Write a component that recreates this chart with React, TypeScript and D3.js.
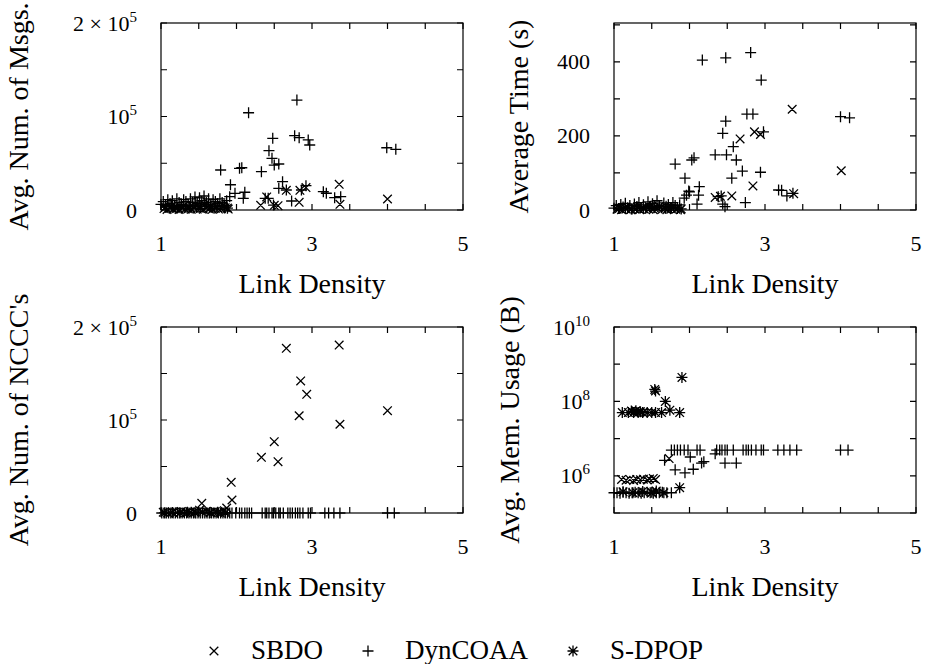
import React from "react";
import * as d3 from "d3";

type P = [number, number];

// ---------- data ----------
const seriesNames = ["SBDO", "DynCOAA", "S-DPOP"];
const xTickLabels = ["1", "3", "5"];

const msgsSBDO: P[] = [[1.04,1500],[1.08,500],[1.12,2000],[1.16,800],[1.2,1500],[1.24,600],[1.28,1800],[1.32,900],[1.36,1400],[1.4,700],[1.44,2000],[1.48,1000],[1.52,1600],[1.56,800],[1.6,2200],[1.64,1200],[1.68,700],[1.72,1800],[1.76,1000],[1.8,1400],[1.85,2500],[1.89,1000],[2.32,5000],[2.5,5000],[2.55,4600],[2.4,14000],[2.66,21000],[2.83,8200],[2.84,21000],[2.92,24000],[3.36,27500],[3.37,6100],[4.0,11800]];
const msgsDyn: P[] = [[1.0,6000],[1.03,9000],[1.06,5000],[1.09,11000],[1.12,7000],[1.15,10000],[1.18,5000],[1.21,12000],[1.24,8000],[1.27,6000],[1.3,11000],[1.33,9000],[1.36,5000],[1.39,12000],[1.42,8000],[1.45,14000],[1.48,7000],[1.51,13000],[1.54,10000],[1.57,15000],[1.6,8000],[1.63,12000],[1.66,6000],[1.69,11000],[1.72,9000],[1.75,7000],[1.78,12000],[1.81,8000],[1.84,5000],[1.87,10000],[1.79,42800],[1.91,14200],[1.92,27000],[1.98,17800],[2.04,44600],[2.07,45200],[2.09,12500],[2.11,19000],[2.16,104000],[2.33,41000],[2.38,12500],[2.42,12500],[2.43,63400],[2.47,55300],[2.48,76700],[2.49,5300],[2.5,48100],[2.56,49200],[2.56,23200],[2.61,30300],[2.66,21400],[2.73,9600],[2.77,79500],[2.8,117600],[2.83,77300],[2.86,21400],[2.92,26000],[2.95,74900],[2.97,69500],[3.15,19600],[3.19,17900],[3.3,13200],[3.38,14200],[3.99,66600],[4.11,64900]];
const msgsSDPOP: P[] = [[1.06,3000],[1.14,4000],[1.22,2500],[1.3,4500],[1.38,3000],[1.46,5500],[1.52,3500],[1.58,6000],[1.66,4000],[1.74,3000],[1.82,4500],[1.88,2000]];

const timeSBDO: P[] = [[1.04,2],[1.1,1],[1.16,3],[1.22,1],[1.28,2],[1.34,1],[1.4,3],[1.46,2],[1.52,1],[1.58,4],[1.64,2],[1.7,1],[1.76,3],[1.82,2],[1.88,1],[2.34,34],[2.41,37],[2.56,38],[2.67,192],[2.84,65],[2.86,211],[2.94,204],[3.36,272],[3.38,44],[4.01,106]];
const timeDyn: P[] = [[1.0,5],[1.03,12],[1.06,4],[1.09,15],[1.12,8],[1.15,18],[1.18,6],[1.21,12],[1.24,3],[1.27,16],[1.3,9],[1.33,20],[1.36,7],[1.39,14],[1.42,5],[1.45,22],[1.48,10],[1.51,17],[1.54,8],[1.57,25],[1.6,12],[1.63,6],[1.66,19],[1.69,10],[1.72,15],[1.75,7],[1.78,20],[1.81,12],[1.84,5],[1.87,14],[1.81,124],[1.93,32],[1.94,86],[1.96,40],[1.99,51],[2.0,49],[2.03,135],[2.06,141],[2.1,16],[2.12,40],[2.13,63],[2.17,405],[2.34,149],[2.38,36],[2.42,38],[2.44,207],[2.44,16],[2.47,9],[2.48,240],[2.48,411],[2.49,149],[2.56,86],[2.58,171],[2.62,135],[2.7,105],[2.74,20],[2.76,259],[2.81,425],[2.84,259],[2.94,102],[2.95,351],[2.98,211],[3.18,54],[3.22,53],[3.29,38],[3.37,45],[4.0,252],[4.12,249]];
const timeSDPOP: P[] = [[1.07,4],[1.15,6],[1.23,3],[1.31,8],[1.39,5],[1.47,9],[1.53,6],[1.6,10],[1.68,5],[1.76,7],[1.84,4],[1.89,3]];

const ncccSBDO: P[] = [[1.03,800],[1.09,300],[1.15,1200],[1.21,500],[1.27,1500],[1.33,400],[1.39,1000],[1.45,2000],[1.51,3000],[1.54,10400],[1.6,1800],[1.66,700],[1.72,1400],[1.78,600],[1.84,2500],[1.87,5400],[1.94,14000],[1.93,33000],[2.33,59900],[2.5,76700],[2.55,55200],[2.66,177100],[2.83,104600],[2.85,142000],[2.93,127600],[3.36,180600],[3.37,95400],[4.0,110000]];
const ncccDyn: P[] = [[1.01,0],[1.04,0],[1.07,0],[1.1,0],[1.13,0],[1.16,0],[1.19,0],[1.22,0],[1.25,0],[1.28,0],[1.31,0],[1.34,0],[1.37,0],[1.4,0],[1.43,0],[1.46,0],[1.49,0],[1.52,0],[1.55,0],[1.58,0],[1.61,0],[1.64,0],[1.67,0],[1.7,0],[1.73,0],[1.76,0],[1.79,0],[1.82,0],[1.85,0],[1.88,0],[1.91,0],[1.94,0],[1.99,0],[2.04,0],[2.07,0],[2.11,0],[2.14,0],[2.17,0],[2.2,0],[2.34,0],[2.38,0],[2.4,0],[2.43,0],[2.47,0],[2.49,0],[2.52,0],[2.56,0],[2.58,0],[2.62,0],[2.68,0],[2.71,0],[2.74,0],[2.78,0],[2.81,0],[2.84,0],[2.88,0],[2.95,0],[2.98,0],[3.17,0],[3.22,0],[3.29,0],[3.37,0],[4.0,0],[4.09,0]];
const ncccSDPOP: P[] = [[1.05,300],[1.15,600],[1.25,200],[1.35,800],[1.45,400],[1.55,1000],[1.65,300],[1.75,700],[1.85,500]];

const memSBDO: P[] = [[1.1,8e5],[1.16,7.6e5],[1.21,8e5],[1.26,7.5e5],[1.3,8e5],[1.35,7.8e5],[1.39,8.1e5],[1.44,7.7e5],[1.47,8.2e5],[1.52,8.5e5],[1.55,7.9e5],[1.73,2.9e6],[1.3,3.5e5],[1.5,3.5e5]];
const memDyn: P[] = [[1.0,3.5e5],[1.04,3.5e5],[1.08,3.4e5],[1.12,3.6e5],[1.16,3.5e5],[1.2,3.4e5],[1.24,3.5e5],[1.28,3.6e5],[1.32,3.5e5],[1.36,3.4e5],[1.4,3.5e5],[1.44,3.6e5],[1.48,3.5e5],[1.52,3.4e5],[1.56,3.5e5],[1.6,3.5e5],[1.64,3.6e5],[1.7,3.5e5],[1.76,3.5e5],[1.67,2.6e6],[1.81,1.45e6],[1.94,1.2e6],[2.05,1.5e6],[2.01,3.2e6],[2.16,2.2e6],[2.19,2.4e6],[2.34,3.9e6],[2.47,2.2e6],[2.62,2.2e6],[1.76,4.9e6],[1.8,4.9e6],[1.84,4.9e6],[1.88,4.9e6],[1.93,4.9e6],[1.98,4.9e6],[2.1,4.9e6],[2.14,4.9e6],[2.36,4.9e6],[2.4,4.9e6],[2.43,4.9e6],[2.47,4.9e6],[2.5,4.9e6],[2.58,4.9e6],[2.71,4.9e6],[2.75,4.9e6],[2.78,4.9e6],[2.82,4.9e6],[2.88,4.9e6],[2.95,4.9e6],[2.98,4.9e6],[3.17,4.9e6],[3.25,4.9e6],[3.33,4.9e6],[3.42,4.9e6],[4.0,4.9e6],[4.1,4.9e6]];
const memSDPOP: P[] = [[1.11,5e7],[1.19,5e7],[1.23,5.5e7],[1.26,5e7],[1.29,5.6e7],[1.32,5e7],[1.35,5.3e7],[1.38,5e7],[1.44,5e7],[1.5,5e7],[1.55,5e7],[1.63,5e7],[1.74,5.8e7],[1.87,5e7],[1.54,2.1e8],[1.55,1.9e8],[1.68,1.0e8],[1.9,4.4e8],[1.12,3.7e5],[1.25,3.5e5],[1.38,3.8e5],[1.5,3.6e5],[1.56,3.9e5],[1.66,3.5e5],[1.87,4.8e5]];

// ---------- layout ----------
const W = 933, H = 664;
const FONT = "Liberation Serif, DejaVu Serif, Noto Serif, serif";
const TICK = 6;
const MARK = "#000";
const SW = 1.3;

type Kind = "x" | "+" | "*";
const kinds: Kind[] = ["x", "+", "*"];

function markerPath(k: Kind, cx: number, cy: number): string {
  const r = 5.5, c = 4.3;
  const plus = `M${cx - r},${cy}H${cx + r}M${cx},${cy - r}V${cy + r}`;
  const cross = `M${cx - c},${cy - c}L${cx + c},${cy + c}M${cx - c},${cy + c}L${cx + c},${cy - c}`;
  if (k === "+") return plus;
  if (k === "x") return cross;
  return plus + cross;
}

type YLab = { v: number; main: string; sup?: string };

interface PanelProps {
  x0: number; x1: number; y0: number; y1: number;
  log?: boolean; yMax: number; yMin?: number;
  yTicks: number[]; yLabels: YLab[];
  series: P[][]; title: string; titleX: number;
}

function Panel(p: PanelProps) {
  const xs = d3.scaleLinear().domain([1, 5]).range([p.x0, p.x1]);
  const ys = p.log
    ? d3.scaleLog().domain([p.yMin || 1e5, p.yMax]).range([p.y1, p.y0])
    : d3.scaleLinear().domain([0, p.yMax]).range([p.y1, p.y0]);
  const xTicks = d3.range(1, 5.0001, 0.5);
  const tickPath: string[] = [];
  xTicks.forEach((t) => {
    const x = xs(t);
    tickPath.push(`M${x},${p.y1}V${p.y1 - TICK}M${x},${p.y0}V${p.y0 + TICK}`);
  });
  p.yTicks.forEach((t) => {
    const y = ys(t);
    tickPath.push(`M${p.x0},${y}H${p.x0 + TICK}M${p.x1},${y}H${p.x1 - TICK}`);
  });
  const cy = (p.y0 + p.y1) / 2;
  return (
    <g>
      <rect x={p.x0} y={p.y0} width={p.x1 - p.x0} height={p.y1 - p.y0} fill="none" stroke="#000" strokeWidth={1.2} />
      <path d={tickPath.join("")} stroke="#000" strokeWidth={1.2} fill="none" />
      {xTickLabels.map((l) => (
        <text key={l} x={xs(+l)} y={p.y1 + 41} textAnchor="middle" fontSize={22} style={{ fontFamily: FONT }}>{l}</text>
      ))}
      {p.yLabels.map((l, i) => (
        <text key={i} x={p.x0 - 24} y={ys(l.v) + 7.5} textAnchor="end" fontSize={22} style={{ fontFamily: FONT }}>
          {l.main}
          {l.sup ? <tspan dy={-9} fontSize={15}>{l.sup}</tspan> : null}
        </text>
      ))}
      <text x={(p.x0 + p.x1) / 2} y={p.y1 + 83} textAnchor="middle" fontSize={28} style={{ fontFamily: FONT }}>Link Density</text>
      <text transform={`translate(${p.titleX},${cy}) rotate(-90)`} textAnchor="middle" fontSize={28} style={{ fontFamily: FONT }}>{p.title}</text>
      {p.series.map((s, si) => (
        <path key={si}
          d={s.map(([x, y]) => markerPath(kinds[si], xs(x), ys(y))).join("")}
          stroke={MARK} strokeWidth={SW} fill="none" />
      ))}
    </g>
  );
}

export default function App() {
  const L = { x0: 161, x1: 463 };
  const R = { x0: 614, x1: 916 };
  const T = { y0: 23, y1: 210 };
  const B = { y0: 327, y1: 513 };
  const legendX = [214, 368, 573];
  return (
    <svg width={W} height={H} style={{ position: "absolute", left: 0, top: 0, background: "#fff" }}>
      <rect width={W} height={H} fill="#fff" />
      <Panel {...L} {...T} yMax={2e5} yTicks={[0, 5e4, 1e5, 1.5e5, 2e5]}
        yLabels={[{ v: 0, main: "0" }, { v: 1e5, main: "10", sup: "5" }, { v: 2e5, main: "2 × 10", sup: "5" }]}
        series={[msgsSBDO, msgsDyn, msgsSDPOP]} title="Avg. Num. of Msgs." titleX={28} />
      <Panel {...R} {...T} yMax={505} yTicks={[0, 100, 200, 300, 400, 500]}
        yLabels={[{ v: 0, main: "0" }, { v: 200, main: "200" }, { v: 400, main: "400" }]}
        series={[timeSBDO, timeDyn, timeSDPOP]} title="Average Time (s)" titleX={528} />
      <Panel {...L} {...B} yMax={2e5} yTicks={[0, 5e4, 1e5, 1.5e5, 2e5]}
        yLabels={[{ v: 0, main: "0" }, { v: 1e5, main: "10", sup: "5" }, { v: 2e5, main: "2 × 10", sup: "5" }]}
        series={[ncccSBDO, ncccDyn, ncccSDPOP]} title="Avg. Num. of NCCC's" titleX={28} />
      <Panel {...R} {...B} log yMin={1e5} yMax={1e10} yTicks={[1e5, 1e6, 1e7, 1e8, 1e9, 1e10]}
        yLabels={[{ v: 1e6, main: "10", sup: "6" }, { v: 1e8, main: "10", sup: "8" }, { v: 1e10, main: "10", sup: "10" }]}
        series={[memSBDO, memDyn, memSDPOP]} title="Avg. Mem. Usage (B)" titleX={519} />
      {seriesNames.map((n, i) => (
        <g key={n}>
          <path d={markerPath(kinds[i], legendX[i], 651)} stroke="#000" strokeWidth={SW} fill="none" />
          <text x={legendX[i] + 37} y={659} fontSize={27} style={{ fontFamily: FONT }}>{n}</text>
        </g>
      ))}
    </svg>
  );
}
